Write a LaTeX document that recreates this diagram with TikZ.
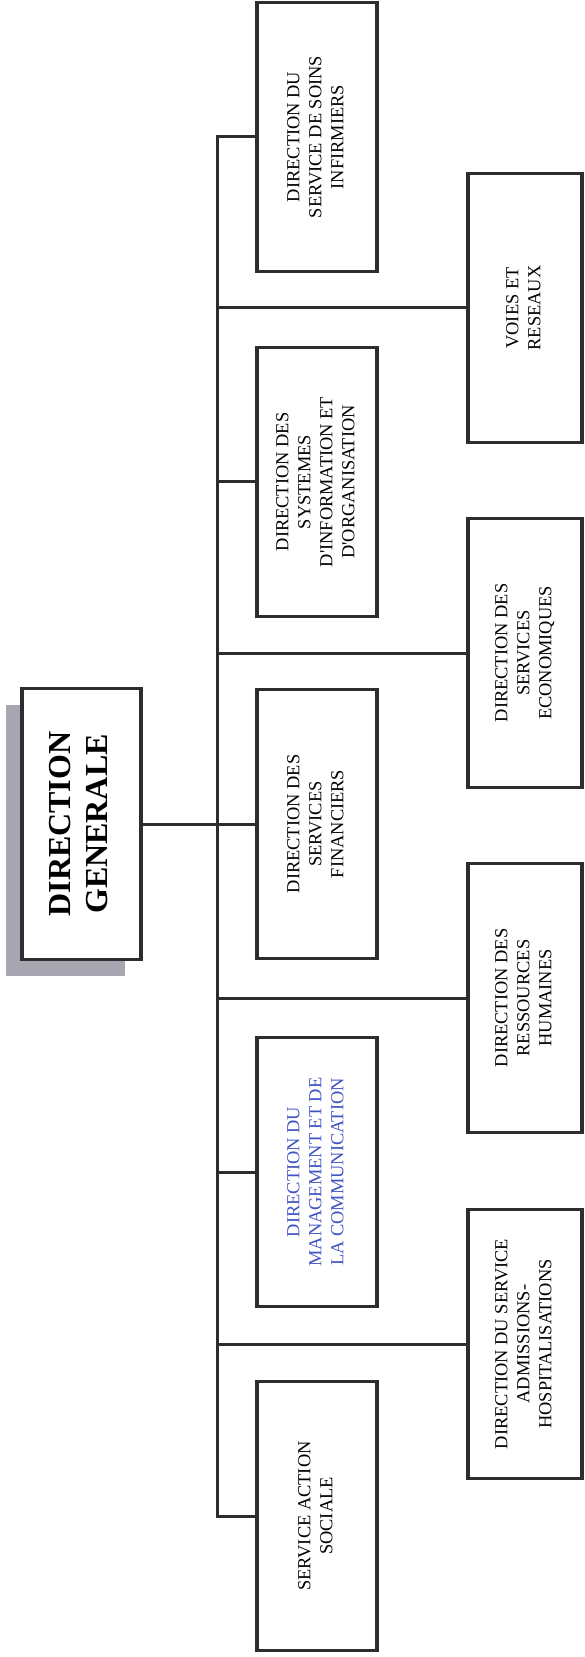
\documentclass[tikz,border=0pt]{standalone}
\usepackage{fontspec}
\setmainfont{Liberation Serif}
\usetikzlibrary{shadows}
\definecolor{linegray}{RGB}{45,45,45}
\definecolor{shadegray}{RGB}{168,166,176}
\definecolor{blueink}{RGB}{64,84,196}
\newcommand{\vlabel}[1]{\rotatebox{90}{\begin{tabular}{@{}c@{}}#1\end{tabular}}}
\tikzset{unitbox/.style = {draw=linegray, line width=1.9pt, fill=white, inner sep=0,
                           minimum width=60pt, minimum height=134.5pt,
                           font=\fontsize{9.2}{11}\selectfont}}
\tikzset{subbox/.style = {unitbox, minimum width=57pt}}
\tikzset{topbox/.style = {unitbox, minimum width=59.5pt, minimum height=135.5pt,
                          font=\fontsize{16}{18.5}\selectfont\bfseries,
                          drop shadow={shadow xshift=-8pt, shadow yshift=-8pt,
                                       fill=shadegray, opacity=1}}}
\tikzset{link/.style = {draw=linegray, line width=1.5pt}}

\begin{document}
\begin{tikzpicture}[x=0.5pt, y=-0.5pt]
    \useasboundingbox (0, 0) rectangle (584, 1657);
    \node [topbox] (dg) at (81.5, 824) {\vlabel{DIRECTION\\GENERALE}};
    \node [unitbox] (soins) at (317, 137) {\vlabel{DIRECTION DU\\SERVICE DE SOINS\\INFIRMIERS}};
    \node [unitbox] (sys) at (317, 482) {\vlabel{DIRECTION DES\\SYSTEMES\\D\textquotesingle INFORMATION ET\\D\textquotesingle ORGANISATION}};
    \node [unitbox] (fin) at (317, 824) {\vlabel{DIRECTION DES\\SERVICES\\FINANCIERS}};
    \node [unitbox, text=blueink] (man) at (317, 1172) {\vlabel{DIRECTION DU\\MANAGEMENT ET DE\\LA COMMUNICATION}};
    \node [unitbox] (soc) at (317, 1516) {\vlabel{SERVICE ACTION\\SOCIALE}};
    \node [subbox] (voies) at (525, 308) {\vlabel{VOIES ET\\RESEAUX}};
    \node [subbox] (eco) at (525, 653) {\vlabel{DIRECTION DES\\SERVICES\\ECONOMIQUES}};
    \node [subbox] (rh) at (525, 998) {\vlabel{DIRECTION DES\\RESSOURCES\\HUMAINES}};
    \node [subbox] (adm) at (525, 1344) {\vlabel{DIRECTION DU SERVICE\\ADMISSIONS-\\HOSPITALISATIONS}};
    \coordinate (bus) at (217, 0);
    \draw [link] (soins.west) -- (soins.west -| bus) -- (soc.west -| bus) -- (soc.west);
    \foreach \b in {sys, man, voies, eco, rh, adm} {
      \draw [link] (\b.west -| bus) -- (\b.west);
    }
    \draw [link] (dg.east) -- (fin.west);
\end{tikzpicture}
\end{document}
